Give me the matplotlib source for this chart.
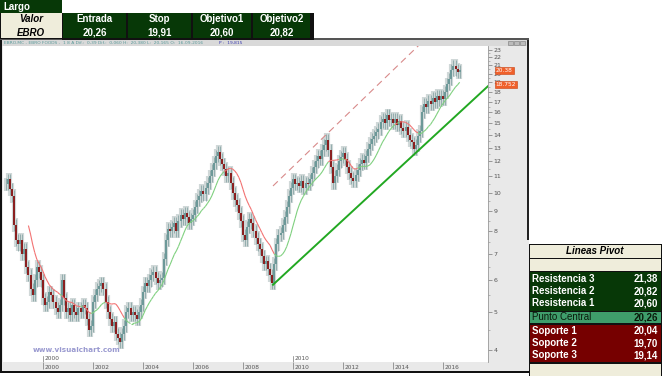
import numpy as np
import pandas as pd
import matplotlib
matplotlib.use("Agg")
import matplotlib.pyplot as plt
from matplotlib.patches import Rectangle
from matplotlib.collections import LineCollection
from matplotlib.ticker import FixedLocator, NullFormatter
import matplotlib.transforms as mtransforms

# ---------------------------------------------------------------- data
ticker = "EBRO"
entry_headers = ["Entrada", "Stop", "Objetivo1", "Objetivo2"]
entry_values = ["20,26", "19,91", "20,60", "20,82"]

pivot_labels = ["Resistencia 3", "Resistencia 2", "Resistencia 1", "Punto Central",
                "Soporte 1", "Soporte 2", "Soporte 3"]
pivot_values = ["21,38", "20,82", "20,60", "20,26", "20,04", "19,70", "19,14"]

# monthly closes, Jul 1998 .. Sep 2016
close_1998 = [10.5, 10.8, 10.2, 9.8, 8.3, 7.6]
close_1999 = [7.4, 7.6, 7.0, 7.2, 6.5, 6.2, 5.7, 5.5, 6.0, 6.5, 6.3, 6.0]
close_2000 = [5.4, 5.2, 5.3, 5.6, 5.5, 5.3, 5.1, 5.0, 5.2, 6.0, 5.4, 5.0]
close_2001 = [5.1, 4.9, 5.2, 5.0, 4.9, 5.1, 5.0, 5.2, 5.1, 4.8, 4.5, 4.6]
close_2002 = [5.3, 5.5, 5.7, 5.8, 5.9, 5.7, 5.3, 5.0, 4.8, 4.6, 4.7, 4.4]
close_2003 = [4.3, 4.2, 4.4, 4.6, 5.0, 5.1, 4.9, 5.0, 4.9, 4.8, 5.0, 5.2]
close_2004 = [5.6, 5.9, 5.8, 6.0, 6.2, 6.3, 6.1, 5.9, 6.0, 6.1, 6.8, 7.6]
close_2005 = [8.1, 8.0, 8.2, 8.4, 8.0, 8.5, 8.8, 8.6, 8.9, 8.7, 8.4, 8.6]
close_2006 = [8.8, 9.2, 9.6, 9.8, 10.1, 9.9, 10.3, 10.6, 11.0, 11.4, 11.9, 12.4]
close_2007 = [12.7, 12.2, 11.8, 11.5, 11.0, 11.2, 10.6, 10.0, 9.6, 9.3, 8.9, 8.5]
close_2008 = [7.8, 7.6, 8.2, 8.6, 8.4, 8.0, 7.7, 7.4, 7.2, 6.9, 6.6, 6.7]
close_2009 = [6.4, 6.2, 5.9, 6.6, 7.4, 7.8, 7.9, 8.3, 8.7, 9.2, 9.8, 10.3]
close_2010 = [10.8, 10.5, 10.6, 10.4, 10.7, 10.3, 10.6, 10.5, 10.8, 11.2, 11.6, 12.0]
close_2011 = [12.4, 12.2, 12.8, 13.2, 13.6, 12.8, 11.6, 10.6, 11.0, 11.4, 12.0, 12.3]
close_2012 = [12.6, 12.2, 11.6, 11.2, 10.9, 10.7, 11.1, 11.4, 11.8, 12.1, 11.9, 12.4]
close_2013 = [12.9, 13.3, 13.7, 13.9, 14.2, 14.5, 15.1, 15.4, 15.0, 15.7, 15.3, 15.4]
close_2014 = [15.0, 15.4, 14.8, 15.2, 14.6, 14.3, 14.7, 14.0, 13.6, 13.4, 12.9, 13.2]
close_2015 = [13.9, 14.3, 16.0, 16.8, 16.5, 17.1, 16.8, 17.4, 17.0, 17.6, 17.2, 17.6]
close_2016 = [17.3, 18.0, 18.8, 19.4, 20.4, 20.9, 20.5, 20.2, 20.38]

# trend lines (year, price)
support_t = [2009.2, 2017.8]
support_p = [5.85, 18.6]
channel_t = [2009.2, 2015.3]
channel_p = [10.4, 24.5]

price_ticks = list(range(4, 24))
year_ticks = [2000, 2002, 2004, 2006, 2008, 2010, 2012, 2014, 2016]

# ---------------------------------------------------------------- layout
W, H = 662, 376
fig = plt.figure(figsize=(W / 100, H / 100), dpi=100)
fig.patch.set_facecolor("white")

DKGREEN = "#073807"
BEIGE = "#efeddb"
DKRED = "#760000"
MIDGREEN = "#3f9d6b"


def rect(x0, y0, x1, y1, fc, ec="none", lw=0, z=-1):
    fig.add_artist(Rectangle((x0 / W, 1 - y1 / H), (x1 - x0) / W, (y1 - y0) / H,
                             transform=fig.transFigure, fc=fc, ec=ec, lw=lw, zorder=z))


def txt(x, y, s, z=3, **kw):
    fig.text(x / W, 1 - y / H, s, zorder=z, **kw)


# chart window background / frame
rect(0, 38, 529, 373, "#e9e9e9")
rect(0, 40, 529, 46, "#d9d9d9")
rect(0, 38, 529, 40, "#555555", z=0)
rect(0, 40, 2, 373, "#111111", z=0)
rect(0, 371, 529, 373, "#111111", z=0)
rect(527, 40, 529, 240, "#222222", z=0)
for bx in (508, 514, 520):
    rect(bx, 41, bx + 5, 45, "#bbbbbb", ec="#777777", lw=0.4, z=0)

txt(4, 43.5, "EBRO.MC - EBRO FOODS -  1 8 A Dif.:  0,39 Dif.:  0,060 H:  20,380 L:  20,165 O:  16-09-2016",
    fontsize=3.2, color="#5a9a9a", va="center")
txt(219, 43.5, "P :  19,815", fontsize=3.2, color="#3b3bb0", va="center")

ax = fig.add_axes([3 / W, 1 - 362 / H, (488 - 3) / W, (362 - 46) / H])
ax.set_facecolor("white")

close = np.array(close_1998 + close_1999 + close_2000 + close_2001 + close_2002 + close_2003
                 + close_2004 + close_2005 + close_2006 + close_2007 + close_2008 + close_2009
                 + close_2010 + close_2011 + close_2012 + close_2013 + close_2014 + close_2015
                 + close_2016)
t = 1998.5 + np.arange(len(close)) / 12.0
opn = np.concatenate([[close[0]], close[:-1]])

up = close >= opn
lo = np.minimum(opn, close)
hi = np.maximum(opn, close)
ax.vlines(t, lo * 0.96, hi * 1.04, color="#d0d8d8", lw=3.0, zorder=1)
ax.vlines(t, lo * 0.965, hi * 1.035, color="#7a9c9c", lw=0.5, zorder=2)
ax.vlines(t[up], lo[up], hi[up], color="#6b9898", lw=1.4, zorder=3)
ax.vlines(t[~up], lo[~up], hi[~up], color="#8a1b1b", lw=1.4, zorder=3)

# moving average, green above price / red below
ma = pd.Series(close).rolling(12).mean().to_numpy()
ok = ~np.isnan(ma)
tm, mm, cm = t[ok], ma[ok], close[ok]
segs = [[(tm[i], mm[i]), (tm[i + 1], mm[i + 1])] for i in range(len(tm) - 1)]
cols = ["#7fd07f" if cm[i + 1] >= mm[i + 1] else "#f27272" for i in range(len(tm) - 1)]
ax.add_collection(LineCollection(segs, colors=cols, linewidths=0.8, zorder=4))

ax.plot(support_t, support_p, color="#22a822", lw=1.4, zorder=5)
ax.plot(channel_t, channel_p, color="#d88a8a", lw=0.8, ls=(0, (6, 4)), zorder=5)

ax.set_yscale("log")
ax.set_xlim(1998.4, 2017.8)
ax.set_ylim(3.73, 23.5)

for s in ("top", "left", "bottom"):
    ax.spines[s].set_visible(False)
ax.spines["right"].set_color("#999999")
ax.spines["right"].set_linewidth(0.6)

ax.yaxis.tick_right()
ax.yaxis.set_major_locator(FixedLocator(price_ticks))
ax.yaxis.set_major_formatter(matplotlib.ticker.FixedFormatter([str(v) for v in price_ticks]))
ax.yaxis.set_minor_locator(FixedLocator(np.arange(4.5, 23.5, 0.5)))
ax.yaxis.set_minor_formatter(NullFormatter())
ax.tick_params(axis="y", which="major", direction="out", length=3, width=0.5, pad=1,
               labelsize=4.5, labelcolor="#555555", color="#777777")
ax.tick_params(axis="y", which="minor", direction="out", length=1.5, width=0.4, color="#888888")

ax.set_xticks(year_ticks)
ax.set_xticklabels([])
ax.tick_params(axis="x", direction="out", length=5, width=0.5, color="#777777")
tb = mtransforms.blended_transform_factory(ax.transData, ax.transAxes)
for yr in year_ticks:
    ax.text(yr + 0.08, -0.008, str(yr), transform=tb, fontsize=4.2, color="#555555",
            ha="left", va="top")
for yr in (2000, 2010):
    ax.text(yr + 0.08, 0.003, str(yr), transform=tb, fontsize=4.2, color="#555555",
            ha="left", va="bottom")
    ax.plot([yr, yr], [0, 0.02], transform=tb, color="#777777", lw=0.5)

ax.text(0.062, 0.03, "www.visualchart.com", transform=ax.transAxes, fontsize=5.2,
        color="#9a9ad0", fontweight="bold", ha="left", va="bottom")

tr = mtransforms.blended_transform_factory(ax.transAxes, ax.transData)
for val, lab in ((20.38, "20.38"), (18.752, "18.752")):
    ax.text(1.016, val, lab, transform=tr, fontsize=4.2, color="white", ha="left",
            va="center", bbox=dict(boxstyle="square,pad=0.15", fc="#f0602a", ec="#c84010", lw=0.4),
            clip_on=False, zorder=6)

# ---------------------------------------------------------------- top table
FONT = "Liberation Sans"
rect(0, 0, 62, 12.5, DKGREEN, z=1)
txt(3, 6.5, "Largo", fontsize=7, color="white", fontweight="bold", va="center", family=FONT)

col_x = [0, 62, 127, 192, 252, 311]
rect(62, 12.5, 314, 40, "#111111", z=1)
rect(0, 12.5, 62, 39, "#111111", z=1)
rect(0.5, 13.2, 61.5, 25.5, BEIGE, z=1)
rect(0.5, 26.3, 61.5, 38.3, BEIGE, z=1)
txt(31, 19.5, "Valor", fontsize=7, fontweight="bold", style="italic", ha="center", va="center",
    family=FONT)
txt(31, 32.5, ticker, fontsize=7, fontweight="bold", style="italic", ha="center", va="center",
    family=FONT)
for i, (hd, vl) in enumerate(zip(entry_headers, entry_values)):
    x0, x1 = col_x[i + 1], col_x[i + 2]
    rect(x0 + 0.7, 13.2, x1 - 0.7, 25.5, DKGREEN, z=1)
    rect(x0 + 0.7, 26.3, x1 - 0.7, 38.3, DKGREEN, z=1)
    txt((x0 + x1) / 2, 19.5, hd, fontsize=7, color="white", fontweight="bold", ha="center",
        va="center", family=FONT)
    txt((x0 + x1) / 2, 32.5, vl, fontsize=7, color="white", fontweight="bold", ha="center",
        va="center", family=FONT)

# ---------------------------------------------------------------- pivot table
rect(528.5, 243.5, 662, 376, "#111111", z=1)
rect(530, 245, 661, 258, BEIGE, z=1)
rect(530, 259, 661, 270.5, BEIGE, z=1)
rect(530, 272, 661, 310.5, DKGREEN, z=1)
rect(530, 311.5, 661, 323, MIDGREEN, z=1)
rect(530, 324.5, 661, 362, DKRED, z=1)
rect(530, 363.5, 661, 376, BEIGE, z=1)
txt(595, 251.5, "Lineas Pivot", fontsize=7, fontweight="bold", style="italic", ha="center",
    va="center", family=FONT)

row_y = [278.5, 291, 303.5, 317.3, 330.5, 343, 355.5]
for lab, val, ry in zip(pivot_labels, pivot_values, row_y):
    central = lab == "Punto Central"
    c = "#0a1a0a" if central else "white"
    txt(532, ry, lab, fontsize=7, color=c, fontweight="normal" if central else "bold",
        va="center", family=FONT)
    txt(658, ry, val, fontsize=7, color=c, fontweight="bold", ha="right", va="center",
        family=FONT)

fig.savefig("out.png", dpi=100)
